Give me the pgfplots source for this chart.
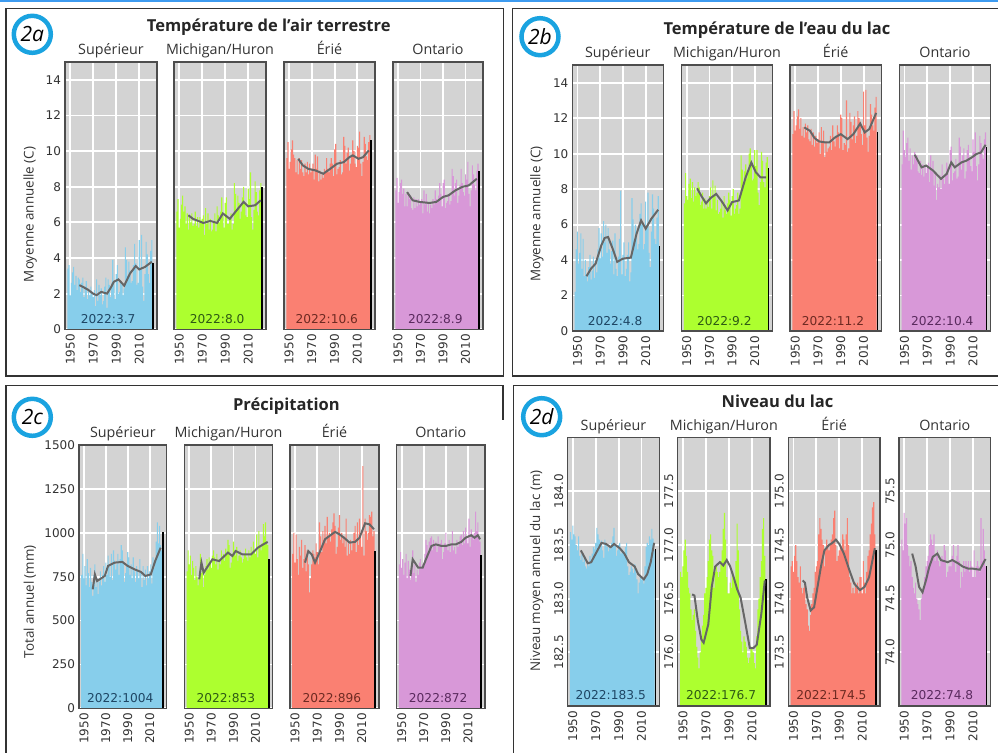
\documentclass[border=0pt]{standalone}
\usepackage{pgfplots}
\pgfplotsset{compat=1.18}
\usepackage{pgfplotstable}
\usepackage{fontspec}
\setmainfont{Open Sans}
\newfontfamily\djv{DejaVu Sans}

\definecolor{sup}{HTML}{87CEEB}
\definecolor{mic}{HTML}{ADFF2F}
\definecolor{eri}{HTML}{FA8072}
\definecolor{ont}{HTML}{D898D8}
\definecolor{bgc}{HTML}{D3D3D3}
\definecolor{smoothc}{HTML}{666666}
\definecolor{circc}{HTML}{1AA3E0}
\definecolor{framec}{HTML}{4D4D4D}
\definecolor{boxc}{HTML}{333333}
\definecolor{topblue}{HTML}{3D9BF0}
\definecolor{supd}{HTML}{1E4664}
\definecolor{micd}{HTML}{2E5A14}
\definecolor{erid}{HTML}{6E2A22}
\definecolor{ontd}{HTML}{5A2A5E}
\definecolor{tickc}{HTML}{333333}

\newcommand{\tickfont}{\djv\fontsize{6}{6}\selectfont}
\newcommand{\valfont}{\djv\fontsize{6.1}{6.1}\selectfont}
\newcommand{\subfont}{\fontsize{7.15}{7.15}\selectfont}
\newcommand{\titlefont}{\bfseries\fontsize{8.25}{8.25}\selectfont}
\newcommand{\labfont}{\fontsize{6.7}{6.7}\selectfont}

% Air temperature (C)
\pgfplotstableread{
yr S M E O
1948 3.4 6.6 9.6 7.8
1949 3.6 7.3 10.5 8.5
1950 1.9 5.7 9.0 7.1
1951 2.6 6.2 9.4 7.7
1952 3.2 7.0 10.1 8.2
1953 3.5 7.5 10.6 8.4
1954 2.5 6.6 9.8 7.6
1955 3.0 6.9 9.6 7.9
1956 2.2 5.9 8.8 6.9
1957 2.9 6.5 9.5 7.6
1958 2.8 5.6 8.7 6.9
1959 2.1 6.4 9.6 7.7
1960 2.6 6.0 9.0 7.3
1961 2.9 6.5 9.5 7.5
1962 1.8 5.8 8.8 6.8
1963 2.4 5.9 8.6 6.7
1964 2.7 6.6 9.3 7.4
1965 1.7 5.8 8.8 6.8
1966 2.3 6.3 9.4 7.3
1967 1.9 5.7 8.7 6.9
1968 2.4 6.3 9.3 7.3
1969 2.1 6.1 8.8 7.0
1970 1.8 6.2 9.0 7.1
1971 2.2 6.4 9.3 7.3
1972 1.3 5.3 8.4 6.5
1973 2.8 6.8 9.8 7.8
1974 1.6 5.9 9.0 7.0
1975 2.5 6.5 9.7 7.6
1976 1.9 5.6 8.3 6.6
1977 2.3 6.2 8.9 7.1
1978 1.4 5.5 8.4 6.5
1979 1.6 5.6 8.7 7.0
1980 2.4 6.0 8.5 6.8
1981 2.9 6.5 9.0 7.3
1982 1.2 5.5 8.9 7.0
1983 2.8 6.9 9.6 7.8
1984 2.5 6.4 9.0 7.3
1985 1.8 6.0 8.8 7.1
1986 2.6 6.6 9.3 7.5
1987 3.9 7.4 9.6 8.2
1988 2.7 6.4 9.3 7.6
1989 1.7 5.7 8.6 6.9
1990 3.1 7.1 10.1 8.2
1991 3.6 7.4 10.4 8.4
1992 2.0 5.9 8.7 6.8
1993 2.1 5.9 9.0 7.1
1994 2.6 6.3 9.1 7.2
1995 2.5 6.5 9.5 7.6
1996 1.9 5.6 8.7 7.0
1997 2.3 5.9 8.8 7.2
1998 4.6 8.2 10.8 9.0
1999 3.9 7.6 10.3 8.6
2000 3.0 6.7 9.3 7.5
2001 3.8 7.5 9.9 8.2
2002 3.3 7.1 10.2 8.4
2003 2.6 6.2 8.9 7.1
2004 2.7 6.6 9.3 7.5
2005 3.6 7.4 9.8 8.1
2006 4.8 8.0 10.6 9.0
2007 3.7 7.1 10.0 8.2
2008 2.5 6.4 9.3 7.7
2009 2.6 6.3 9.1 7.5
2010 5.0 7.9 10.3 8.7
2011 3.4 7.3 10.2 8.4
2012 5.3 8.8 11.1 9.4
2013 2.4 6.3 9.3 7.6
2014 1.6 5.6 8.6 6.9
2015 3.1 6.7 9.4 7.8
2016 4.9 8.3 10.8 9.2
2017 4.2 7.7 10.4 8.7
2018 3.1 6.6 9.7 8.1
2019 2.6 6.4 9.5 7.8
2020 4.4 7.8 10.5 8.9
2021 5.0 8.2 10.9 9.3
}\ta

% Lake water temperature (C)
\pgfplotstableread{
yr S M E O
1948 2.2 7.2 11.1 9.4
1949 4.6 8.9 12.4 11.3
1950 5.6 7.6 11.3 10.2
1951 3.8 7.4 11.6 9.8
1952 4.4 8.3 12.1 10.6
1953 5.5 8.6 12.5 10.9
1954 3.5 7.5 11.4 9.6
1955 5.2 8.4 12.0 10.3
1956 3.1 7.3 11.0 9.1
1957 4.0 8.1 11.5 9.9
1958 3.2 7.6 10.9 9.4
1959 2.8 7.8 11.7 10.1
1960 3.6 8.4 11.2 9.7
1961 4.3 8.1 11.6 9.9
1962 2.9 7.1 10.8 9.0
1963 3.4 7.3 10.7 8.9
1964 4.2 7.8 11.4 9.6
1965 3.0 6.9 10.5 8.8
1966 4.0 7.5 11.2 9.4
1967 3.3 6.9 10.4 8.7
1968 4.6 7.4 11.0 9.3
1969 5.8 7.0 10.6 8.9
1970 4.1 7.6 10.8 9.2
1971 5.5 8.1 11.2 9.5
1972 4.2 6.9 10.0 8.4
1973 6.2 8.5 11.5 9.9
1974 5.0 7.6 10.6 9.0
1975 6.0 8.2 11.3 9.6
1976 4.4 6.8 9.8 8.2
1977 5.8 7.4 10.7 8.9
1978 4.6 6.6 10.1 7.4
1979 3.8 6.7 10.3 8.3
1980 4.5 6.9 10.4 8.1
1981 5.1 7.3 11.0 8.8
1982 3.2 6.4 10.2 8.0
1983 5.5 7.6 11.6 9.4
1984 3.5 6.8 10.7 8.6
1985 3.1 6.6 10.4 8.3
1986 4.2 7.2 11.0 8.9
1987 5.2 7.8 11.6 9.5
1988 7.9 7.4 11.2 9.2
1989 3.2 6.5 10.3 8.3
1990 4.3 7.6 12.2 10.2
1991 5.0 8.0 12.0 10.4
1992 3.1 6.6 10.2 8.5
1993 3.5 6.9 10.6 8.9
1994 4.3 7.1 10.5 9.0
1995 5.0 7.8 13.0 9.7
1996 2.8 6.6 10.1 8.6
1997 3.3 6.9 10.3 8.7
1998 7.5 9.9 12.3 10.9
1999 6.3 9.1 11.8 10.4
2000 5.1 8.1 10.8 9.1
2001 6.0 9.0 11.6 9.9
2002 5.4 9.4 12.1 10.3
2003 4.6 8.6 10.6 8.6
2004 4.9 8.9 11.0 9.0
2005 6.6 10.0 12.4 10.2
2006 7.2 10.3 12.0 10.5
2007 6.0 9.5 11.8 9.8
2008 4.6 8.5 11.1 9.3
2009 4.9 8.6 10.5 9.0
2010 7.3 10.2 13.5 10.8
2011 5.8 9.3 11.6 10.1
2012 7.8 10.2 13.6 11.2
2013 4.4 7.8 10.9 9.3
2014 3.6 7.1 10.1 8.5
2015 5.6 8.4 11.0 9.4
2016 7.7 10.1 12.8 11.0
2017 6.9 9.6 12.2 10.6
2018 5.2 8.4 11.6 10.0
2019 4.9 8.1 11.3 9.7
2020 6.4 9.5 12.6 10.8
2021 7.6 9.8 13.2 11.2
}\tb

% Precipitation (mm)
\pgfplotstableread{
yr S M E O
1948 760 780 880 820
1949 880 900 1000 890
1950 740 820 830 800
1951 810 870 990 850
1952 700 760 850 760
1953 850 840 760 830
1954 770 800 920 880
1955 690 730 870 740
1956 800 810 960 840
1957 720 750 800 790
1958 640 700 850 730
1959 760 740 930 780
1960 820 880 780 900
1961 690 770 900 770
1962 740 790 820 820
1963 650 690 660 720
1964 720 760 740 790
1965 780 810 820 760
1966 700 850 900 830
1967 760 790 880 850
1968 810 860 860 800
1969 720 830 940 820
1970 830 800 890 810
1971 760 870 820 880
1972 870 900 1060 960
1973 810 860 980 930
1974 750 820 890 890
1975 880 880 1010 950
1976 730 790 960 970
1977 900 850 1040 980
1978 840 820 940 900
1979 790 900 1090 960
1980 820 860 980 930
1981 880 880 1000 950
1982 760 840 950 890
1983 850 910 1020 980
1984 930 880 1060 920
1985 900 960 1110 940
1986 840 930 1040 960
1987 720 800 880 850
1988 770 830 920 890
1989 810 880 1030 940
1990 890 950 1100 1000
1991 860 900 960 930
1992 760 870 1000 900
1993 820 920 940 960
1994 740 840 980 890
1995 860 870 920 930
1996 780 900 1080 1010
1997 720 860 870 900
1998 810 830 940 920
1999 780 850 880 880
2000 740 880 960 960
2001 850 910 900 920
2002 770 860 940 940
2003 690 840 1000 980
2004 810 900 1040 990
2005 730 860 890 930
2006 790 920 1060 1010
2007 700 880 930 940
2008 810 950 1080 1030
2009 740 900 980 970
2010 780 880 920 940
2011 820 990 1380 1080
2012 710 860 870 920
2013 860 1010 1080 1020
2014 800 920 1010 990
2015 830 900 960 960
2016 950 940 1000 1000
2017 1060 1050 1100 1120
2018 940 980 1090 1010
2019 1040 1060 1120 1060
2020 930 950 980 970
2021 900 930 1010 950
}\tc

% Lake level (m)
\pgfplotstableread{
yr S M E O
1948 183.62 176.75 174.30 75.05
1949 183.55 176.70 174.35 74.95
1950 183.68 176.80 174.25 75.30
1951 183.60 176.95 174.40 75.20
1952 183.58 177.05 174.50 75.25
1953 183.50 176.90 174.35 75.00
1954 183.45 176.75 174.20 74.90
1955 183.58 176.60 174.15 74.80
1956 183.40 176.55 174.30 74.85
1957 183.36 176.40 174.10 74.70
1958 183.42 176.30 174.05 74.60
1959 183.34 176.35 174.10 74.55
1960 183.38 176.40 174.15 74.65
1961 183.30 176.20 173.95 74.50
1962 183.28 176.05 173.90 74.45
1963 183.32 175.95 173.75 74.40
1964 183.30 175.85 173.70 74.30
1965 183.40 176.00 173.85 74.50
1966 183.36 176.15 173.95 74.55
1967 183.42 176.25 174.05 74.60
1968 183.48 176.35 174.10 74.70
1969 183.46 176.55 174.25 74.80
1970 183.52 176.60 174.30 74.85
1971 183.66 176.70 174.35 74.90
1972 183.60 176.85 174.60 75.00
1973 183.55 177.05 174.75 75.10
1974 183.48 177.10 174.65 75.05
1975 183.54 176.95 174.55 75.00
1976 183.45 176.90 174.50 75.10
1977 183.38 176.60 174.30 74.85
1978 183.55 176.75 174.45 74.90
1979 183.52 176.80 174.55 74.95
1980 183.48 176.75 174.50 74.85
1981 183.44 176.70 174.45 74.80
1982 183.50 176.75 174.50 74.85
1983 183.46 176.85 174.55 74.90
1984 183.52 176.95 174.60 74.85
1985 183.58 177.15 174.75 75.00
1986 183.66 177.30 174.82 74.95
1987 183.50 177.05 174.50 74.70
1988 183.40 176.70 174.35 74.75
1989 183.45 176.55 174.40 74.80
1990 183.50 176.55 174.45 74.85
1991 183.52 176.65 174.50 74.80
1992 183.42 176.60 174.45 74.90
1993 183.46 176.75 174.60 75.00
1994 183.44 176.70 174.55 74.85
1995 183.40 176.65 174.45 74.75
1996 183.48 176.85 174.60 74.90
1997 183.52 177.20 174.75 75.00
1998 183.30 176.95 174.50 74.85
1999 183.22 176.40 174.20 74.60
2000 183.25 176.20 174.15 74.75
2001 183.30 176.10 174.05 74.70
2002 183.28 176.00 174.10 74.85
2003 183.24 176.15 174.05 74.75
2004 183.32 176.10 174.15 74.85
2005 183.26 176.05 174.10 74.80
2006 183.18 175.95 174.15 74.85
2007 183.05 175.90 174.05 74.75
2008 183.15 175.95 174.20 74.85
2009 183.22 176.05 174.20 74.80
2010 183.18 176.05 174.05 74.70
2011 183.20 176.00 174.35 74.95
2012 183.14 175.90 174.15 74.70
2013 183.30 175.85 174.05 74.80
2014 183.48 176.15 174.25 74.85
2015 183.52 176.40 174.40 74.80
2016 183.50 176.50 174.45 74.75
2017 183.58 176.70 174.60 75.25
2018 183.55 176.85 174.70 74.85
2019 183.65 177.15 174.85 75.15
2020 183.56 177.25 174.90 74.95
2021 183.45 176.90 174.60 74.80
}\td

\pgfplotsset{
  base/.style={
    scale only axis, anchor=south west,
    xmin=1945.5, xmax=2025.5,
    axis background/.style={fill=bgc},
    grid=major, major grid style={white, line width=0.9pt},
    axis line style={draw=none},
    major tick length=0pt,
    xtick={1950,1970,1990,2010},
    xticklabel style={rotate=90, anchor=east, font=\tickfont, text=tickc, inner sep=2.2pt},
    yticklabel style={font=\tickfont, text=tickc, inner sep=1.8pt},
    /pgf/number format/assume math mode=true,
    /pgf/number format/1000 sep={},
    title style={at={(0.5,1)}, anchor=base, yshift=-2.4pt, font=\subfont, text=boxc, inner sep=0pt},
    ylabel style={font=\labfont, text=boxc, anchor=center},
    after end axis/.code={\draw[framec, line width=0.6pt] (rel axis cs:0,0) rectangle (rel axis cs:1,1);},
  },
  noyt/.style={yticklabels={}},
  lvl/.style={yticklabel style={rotate=90, anchor=south, inner sep=2pt,
      /pgf/number format/.cd, fixed, fixed zerofill, precision=1, /tikz/.cd}},
  bars/.style={ybar, bar shift=0pt, bar width=1, draw=none, fill=#1},
  last/.style={ybar, bar shift=0pt, bar width=1.3, draw=none, fill=black},
  sm/.style={smoothc, line width=1pt},
}

\begin{document}
\begin{tikzpicture}
\useasboundingbox (0,0) rectangle (499pt,-376pt);
% top blue rule and panel frames
\fill[topblue] (0,0) rectangle (499pt,-0.8pt);
\draw[boxc, line width=0.6pt] (3pt,-4.15pt) rectangle (251.65pt,-188pt);
\draw[boxc, line width=0.6pt] (500pt,-4.15pt) -- (256.35pt,-4.15pt) -- (256.35pt,-188pt) -- (500pt,-188pt);
\draw[boxc, line width=0.6pt] (3pt,-377pt) -- (3pt,-192.85pt) -- (251.5pt,-192.85pt) -- (251.5pt,-210pt);
\draw[boxc, line width=0.6pt] (256.65pt,-377pt) -- (256.65pt,-192.85pt) -- (500pt,-192.85pt);

% panel badges
\foreach \cx/\cy/\t in {16.15/17.15/2a, 270/18.35/2b, 16.15/208.65/2c, 270.85/208.35/2d}{
  \draw[circc, line width=2.25pt] (\cx pt,-\cy pt) circle (9.25pt);
  \node[font=\fontsize{10.5}{10.5}\selectfont\itshape, text=black] at (\cx pt,-\cy pt) {\t};
}
% panel titles
\node[font=\titlefont, text=black!85, anchor=base] at (134.35pt,-15.85pt) {Température de l’air terrestre};
\node[font=\titlefont, text=black!85, anchor=base] at (388.5pt,-17pt) {Température de l’eau du lac};
\node[font=\titlefont, text=black!85, anchor=base] at (143.2pt,-205pt) {Précipitation};
\node[font=\titlefont, text=black!85, anchor=base] at (388.75pt,-203.6pt) {Niveau du lac};

%================ 2a =================
\begin{axis}[base, at={(32.5pt,-164.65pt)}, width=46pt, height=133.65pt,
  ymin=0, ymax=15, ytick={0,2,...,14}, title={Supérieur},
  ylabel={Moyenne annuelle (C)}, ylabel style={at={(axis description cs:-0.38,0.43)}}]
\addplot[bars=sup] table[x=yr,y=S]{\ta};
\addplot[last] coordinates {(2022,3.7)};
\addplot[sm] coordinates {(1958,2.48)(1962,2.35)(1966,2.2)(1970,2.0)(1973,1.92)(1977,2.1)(1982,2.0)(1985,2.3)(1988,2.67)(1992,2.8)(1997,2.45)(2002,3.13)(2007,3.55)(2010,3.36)(2015,3.5)(2021,3.79)};
\node[font=\valfont, text=supd, anchor=base] at (axis description cs:0.47,0.02) {2022:3.7};
\end{axis}
\begin{axis}[base, noyt, at={(87pt,-164.65pt)}, width=46pt, height=133.65pt,
  ymin=0, ymax=15, ytick={0,2,...,14}, title={Michigan/Huron}]
\addplot[bars=mic] table[x=yr,y=M]{\ta};
\addplot[last] coordinates {(2022,8.0)};
\addplot[sm] coordinates {(1958,6.4)(1962,6.2)(1965,6.12)(1971,5.97)(1977,6.08)(1983,5.97)(1988,6.5)(1994,6.2)(2000,6.68)(2006,7.15)(2010,6.9)(2016,6.96)(2021,7.24)};
\node[font=\valfont, text=micd, anchor=base] at (axis description cs:0.47,0.02) {2022:8.0};
\end{axis}
\begin{axis}[base, noyt, at={(142pt,-164.65pt)}, width=45.5pt, height=133.65pt,
  ymin=0, ymax=15, ytick={0,2,...,14}, title={Érié}]
\addplot[bars=eri] table[x=yr,y=E]{\ta};
\addplot[last] coordinates {(2022,10.6)};
\addplot[sm] coordinates {(1958,9.57)(1962,9.2)(1967,9.0)(1973,8.92)(1980,8.73)(1986,9.0)(1992,9.29)(1998,9.38)(2003,9.66)(2006,9.76)(2011,9.57)(2015,9.66)(2020,10.04)};
\node[font=\valfont, text=erid, anchor=base] at (axis description cs:0.47,0.02) {2022:10.6};
\end{axis}
\begin{axis}[base, noyt, at={(196.5pt,-164.65pt)}, width=45pt, height=133.65pt,
  ymin=0, ymax=15, ytick={0,2,...,14}, title={Ontario}]
\addplot[bars=ont] table[x=yr,y=O]{\ta};
\addplot[last] coordinates {(2022,8.9)};
\addplot[sm] coordinates {(1958,7.7)(1963,7.24)(1969,7.15)(1978,7.09)(1984,7.15)(1990,7.43)(1995,7.52)(2001,7.8)(2007,7.99)(2013,8.08)(2020,8.45)};
\node[font=\valfont, text=ontd, anchor=base] at (axis description cs:0.47,0.02) {2022:8.9};
\end{axis}

%================ 2b =================
\begin{axis}[base, at={(286.15pt,-165.5pt)}, width=45.5pt, height=133pt,
  ymin=0, ymax=15, ytick={0,2,...,14}, title={Supérieur},
  ylabel={Moyenne annuelle (C)}, ylabel style={at={(axis description cs:-0.39,0.44)}}]
\addplot[bars=sup] table[x=yr,y=S]{\tb};
\addplot[last] coordinates {(2022,4.8)};
\addplot[sm] coordinates {(1958,3.09)(1962,3.52)(1966,3.8)(1971,4.83)(1974,5.25)(1977,5.3)(1981,4.64)(1985,3.9)(1990,4.08)(1997,4.14)(2002,5.49)(2006,6.24)(2010,5.77)(2015,6.33)(2021,6.84)};
\node[font=\valfont, text=supd, anchor=base] at (axis description cs:0.47,0.02) {2022:4.8};
\end{axis}
\begin{axis}[base, noyt, at={(340.85pt,-165.5pt)}, width=45.3pt, height=133pt,
  ymin=0, ymax=15, ytick={0,2,...,14}, title={Michigan/Huron}]
\addplot[bars=mic] table[x=yr,y=M]{\tb};
\addplot[last] coordinates {(2022,9.2)};
\addplot[sm] coordinates {(1959,8.05)(1963,7.6)(1967,7.2)(1971,7.5)(1976,7.73)(1981,7.3)(1986,6.8)(1990,7.27)(1996,7.36)(2002,8.67)(2007,9.5)(2011,8.95)(2015,8.67)(2020,8.67)};
\node[font=\valfont, text=micd, anchor=base] at (axis description cs:0.47,0.02) {2022:9.2};
\end{axis}
\begin{axis}[base, noyt, at={(395pt,-165.5pt)}, width=45.65pt, height=133pt,
  ymin=0, ymax=15, ytick={0,2,...,14}, title={Érié}]
\addplot[bars=eri] table[x=yr,y=E]{\tb};
\addplot[last] coordinates {(2022,11.2)};
\addplot[sm] coordinates {(1958,11.48)(1963,11.29)(1967,10.88)(1971,10.69)(1976,10.64)(1980,10.64)(1985,10.92)(1990,11.1)(1996,10.82)(2001,11.1)(2007,11.7)(2011,11.2)(2015,11.39)(2021,12.3)};
\node[font=\valfont, text=erid, anchor=base] at (axis description cs:0.47,0.02) {2022:11.2};
\end{axis}
\begin{axis}[base, noyt, at={(449.65pt,-165.5pt)}, width=45.7pt, height=133pt,
  ymin=0, ymax=15, ytick={0,2,...,14}, title={Ontario}]
\addplot[bars=ont] table[x=yr,y=O]{\tb};
\addplot[last] coordinates {(2022,10.4)};
\addplot[sm] coordinates {(1959,9.94)(1965,9.23)(1969,9.33)(1975,9.05)(1982,8.58)(1987,8.86)(1991,9.51)(1994,9.23)(2000,9.51)(2004,9.6)(2009,9.79)(2013,9.98)(2017,10.07)(2021,10.5)};
\node[font=\valfont, text=ontd, anchor=base] at (axis description cs:0.47,0.02) {2022:10.4};
\end{axis}

%================ 2c =================
\begin{axis}[base, at={(39.5pt,-354.15pt)}, width=43.85pt, height=131.65pt,
  ymin=0, ymax=1500, ytick={0,250,...,1500}, title={Supérieur},
  ylabel={Total annuel (mm)}, ylabel style={at={(axis description cs:-0.56,0.405)}}]
\addplot[bars=sup] table[x=yr,y=S]{\tc};
\addplot[last] coordinates {(2022,1004)};
\addplot[sm] coordinates {(1958,678)(1960,763)(1962,725)(1969,754)(1972,811)(1978,830)(1985,834)(1990,811)(1996,792)(2002,777)(2006,754)(2011,763)(2015,839)(2020,915)};
\node[font=\valfont, text=supd, anchor=base] at (axis description cs:0.47,0.021) {2022:1004};
\end{axis}
\begin{axis}[base, noyt, at={(92.15pt,-354.15pt)}, width=44.2pt, height=131.65pt,
  ymin=0, ymax=1500, ytick={0,250,...,1500}, title={Michigan/Huron}]
\addplot[bars=mic] table[x=yr,y=M]{\tc};
\addplot[last] coordinates {(2022,853)};
\addplot[sm] coordinates {(1959,735)(1961,830)(1963,773)(1967,811)(1971,849)(1977,839)(1985,887)(1989,868)(1992,896)(1998,877)(2006,877)(2012,915)(2017,934)(2021,948)};
\node[font=\valfont, text=micd, anchor=base] at (axis description cs:0.47,0.021) {2022:853};
\end{axis}
\begin{axis}[base, noyt, at={(145pt,-354.15pt)}, width=44.5pt, height=131.65pt,
  ymin=0, ymax=1500, ytick={0,250,...,1500}, title={Érié}]
\addplot[bars=eri] table[x=yr,y=E]{\tc};
\addplot[last] coordinates {(2022,896)};
\addplot[sm] coordinates {(1959,830)(1962,896)(1965,877)(1968,830)(1972,887)(1977,963)(1981,982)(1986,1005)(1990,991)(1995,967)(1999,944)(2004,948)(2008,972)(2013,1054)(2017,1048)(2021,1020)};
\node[font=\valfont, text=erid, anchor=base] at (axis description cs:0.47,0.021) {2022:896};
\end{axis}
\begin{axis}[base, noyt, at={(198.35pt,-354.15pt)}, width=44.15pt, height=131.65pt,
  ymin=0, ymax=1500, ytick={0,250,...,1500}, title={Ontario}]
\addplot[bars=ont] table[x=yr,y=O]{\tc};
\addplot[last] coordinates {(2022,872)};
\addplot[sm] coordinates {(1958,754)(1960,849)(1965,801)(1969,801)(1972,849)(1977,925)(1981,934)(1986,925)(1990,925)(1995,934)(1999,934)(2004,948)(2008,972)(2013,986)(2016,972)(2019,986)(2021,963)};
\node[font=\valfont, text=ontd, anchor=base] at (axis description cs:0.47,0.021) {2022:872};
\end{axis}

%================ 2d =================
\begin{axis}[base, lvl, at={(283.85pt,-353pt)}, width=45.8pt, height=134.15pt,
  ymin=182, ymax=184.5, ytick={182.5,183,183.5,184}, title={Supérieur},
  ylabel={Niveau moyen annuel du lac (m)}, ylabel style={at={(axis description cs:-0.34,0.504)}}]
\addplot[bars=sup] table[x=yr,y=S]{\td};
\addplot[last] coordinates {(2022,183.46)};
\addplot[sm] coordinates {(1957,183.45)(1960,183.39)(1963,183.33)(1966,183.34)(1970,183.42)(1975,183.52)(1979,183.51)(1983,183.48)(1986,183.51)(1991,183.47)(1995,183.42)(1999,183.34)(2004,183.3)(2007,183.23)(2010,183.2)(2012,183.18)(2015,183.23)(2018,183.34)(2021,183.52)};
\node[font=\valfont, text=supd, anchor=base] at (axis description cs:0.47,0.026) {2022:183.5};
\end{axis}
\begin{axis}[base, lvl, at={(338.85pt,-353pt)}, width=46.15pt, height=134.15pt,
  ymin=175.5, ymax=178, ytick={176,176.5,177,177.5}, title={Michigan/Huron}]
\addplot[bars=mic] table[x=yr,y=M]{\td};
\addplot[last] coordinates {(2022,176.68)};
\addplot[sm] coordinates {(1958,176.54)(1960,176.53)(1963,176.29)(1966,176.12)(1968,176.09)(1972,176.26)(1975,176.61)(1978,176.8)(1982,176.84)(1985,176.81)(1988,176.86)(1991,176.8)(1994,176.7)(1997,176.59)(2000,176.51)(2004,176.28)(2008,176.04)(2011,176.04)(2014,176.07)(2018,176.36)(2021,176.67)};
\node[font=\valfont, text=micd, anchor=base] at (axis description cs:0.47,0.026) {2022:176.7};
\end{axis}
\begin{axis}[base, lvl, at={(394.15pt,-353pt)}, width=45.85pt, height=134.15pt,
  ymin=173, ymax=175.5, ytick={173.5,174,174.5,175}, title={Érié}]
\addplot[bars=eri] table[x=yr,y=E]{\td};
\addplot[last] coordinates {(2022,174.45)};
\addplot[sm] coordinates {(1958,174.17)(1960,174.15)(1962,174.01)(1965,173.89)(1968,173.92)(1971,174.11)(1974,174.3)(1977,174.45)(1981,174.5)(1984,174.52)(1987,174.55)(1990,174.51)(1994,174.42)(1999,174.26)(2003,174.14)(2008,174.08)(2012,174.11)(2016,174.2)(2021,174.47)};
\node[font=\valfont, text=erid, anchor=base] at (axis description cs:0.47,0.026) {2022:174.5};
\end{axis}
\begin{axis}[base, lvl, at={(449.5pt,-353pt)}, width=45.85pt, height=134.15pt,
  ymin=73.5, ymax=76, ytick={74,74.5,75,75.5}, title={Ontario}]
\addplot[bars=ont] table[x=yr,y=O]{\td};
\addplot[last] coordinates {(2022,74.8)};
\addplot[sm] coordinates {(1957,74.92)(1960,74.8)(1963,74.61)(1966,74.56)(1969,74.67)(1972,74.8)(1975,74.89)(1979,74.92)(1982,74.86)(1988,74.84)(1992,74.86)(1997,74.83)(2001,74.8)(2006,74.78)(2010,74.78)(2016,74.77)(2019,74.83)(2021,74.87)};
\node[font=\valfont, text=ontd, anchor=base] at (axis description cs:0.47,0.026) {2022:74.8};
\end{axis}
\end{tikzpicture}
\end{document}
